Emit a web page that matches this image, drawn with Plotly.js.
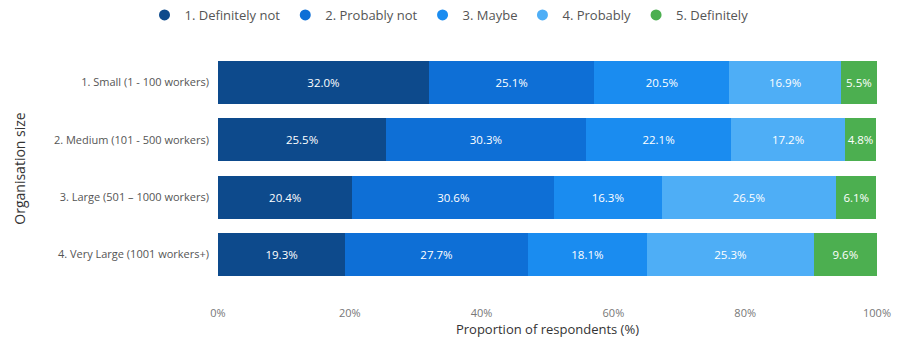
<!DOCTYPE html>
<html><head><meta charset="utf-8">
<script src="https://cdn.plot.ly/plotly-3.0.1.min.js"></script>
<style>html,body{margin:0;padding:0;background:#fff}#c{width:898px;height:342px}</style>
</head><body><div id="c"></div>
<script>
const categories = ["1. Small (1 - 100 workers)", "2. Medium (101 - 500 workers)", "3. Large (501 \u2013 1000 workers)", "4. Very Large (1001 workers+)"];
const seriesNames = ["1. Definitely not", "2. Probably not", "3. Maybe", "4. Probably", "5. Definitely"];
const definitelyNot = [32.0, 25.5, 20.4, 19.3];
const probablyNot = [25.1, 30.3, 30.6, 27.7];
const maybe = [20.5, 22.1, 16.3, 18.1];
const probably = [16.9, 17.2, 26.5, 25.3];
const definitely = [5.5, 4.8, 6.1, 9.6];
const tickVals = [0, 20, 40, 60, 80, 100];
const tickText = ["0%", "20%", "40%", "60%", "80%", "100%"];
const colors = ["#0d4a8c", "#0e6fd6", "#1a8cf0", "#4eaef6", "#4caf50"];

const values = [definitelyNot, probablyNot, maybe, probably, definitely];
const font = "'Open Sans', 'Noto Sans', sans-serif";
const traces = [];
values.forEach((v, i) => {
  traces.push({
    type: 'bar', orientation: 'h', x: v, y: categories, name: seriesNames[i],
    marker: {color: colors[i], line: {width: 0}},
    text: v.map(a => a.toFixed(1) + '%'), textposition: 'inside', insidetextanchor: 'middle',
    textangle: 0,
    textfont: {color: '#ffffff', size: 11.5, family: font}, constraintext: 'none',
    showlegend: false, hoverinfo: 'none'
  });
});
values.forEach((v, i) => {
  traces.push({
    type: 'scatter', mode: 'markers', x: [null], y: [null], name: seriesNames[i],
    marker: {color: colors[i], symbol: 'circle', size: 11}, showlegend: true
  });
});

const layout = {
  width: 898, height: 342, barmode: 'stack', bargap: 0.25,
  paper_bgcolor: '#ffffff', plot_bgcolor: '#ffffff',
  margin: {l: 218, r: 21, t: 54, b: 59},
  font: {family: font, color: '#444'},
  showlegend: true,
  legend: {orientation: 'h', traceorder: 'normal', x: 0.5, xref: 'container', xanchor: 'center', y: 1, yref: 'container', yanchor: 'top',
    font: {size: 13, color: '#555', family: font}, itemwidth: 30, tracegroupgap: 0},
  xaxis: {range: [0, 100], tickvals: tickVals, ticktext: tickText, showgrid: false, zeroline: false,
    showline: false, ticks: '', ticklabelstandoff: 22, tickfont: {size: 11, color: '#777', family: font},
    title: {text: 'Proportion of respondents (%)', font: {size: 13, color: '#333', family: font}, standoff: 3}},
  yaxis: {autorange: 'reversed', showgrid: false, zeroline: false, showline: false, ticks: '',
    ticklabelstandoff: 8,
    tickfont: {size: 11, color: '#555', family: font},
    title: {text: 'Organisation size', font: {size: 14, color: '#333', family: font}, standoff: 25}}
};
Plotly.newPlot('c', traces, layout, {displayModeBar: false, staticPlot: true});
</script></body></html>
